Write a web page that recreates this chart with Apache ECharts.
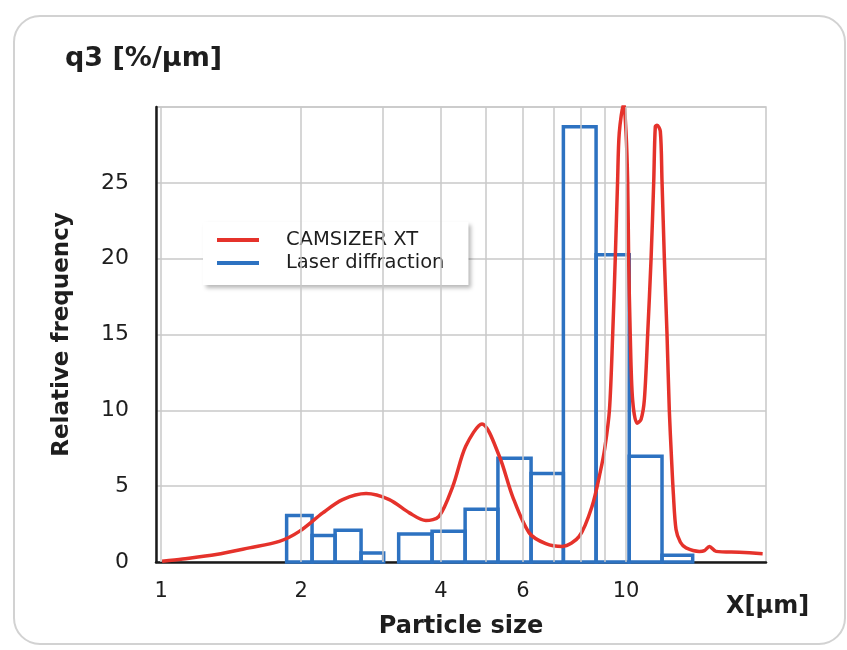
<!DOCTYPE html>
<html>
<head>
<meta charset="utf-8">
<script src="https://cdn.jsdelivr.net/npm/echarts@6/dist/echarts.min.js"></script>
<style>
  html, body { margin: 0; padding: 0; background: #ffffff; }
  #chart { width: 847px; height: 650px; }
</style>
</head>
<body>
<div id="chart"></div>
<script>
// ---- data ----
const seriesNames = ['CAMSIZER XT', 'Laser diffraction'];

// CAMSIZER XT curve (particle size in µm, q3 in %/µm)
const camX = [1.005, 1.113, 1.313, 1.548, 1.796, 1.983, 2.227, 2.457, 2.76, 3.096, 3.42, 3.71, 3.96, 4.24, 4.52, 4.90,
  5.34, 5.70, 6.19, 6.72, 7.30, 7.93, 8.45, 8.81, 9.0, 9.21, 9.36, 9.48, 9.59, 9.67, 9.88, 10.0, 10.08, 10.13, 10.21,
  10.33, 10.56, 10.77, 10.95, 11.13, 11.32, 11.47, 11.56, 11.66, 11.85, 11.95, 12.09, 12.25, 12.39, 12.53, 12.64,
  12.81, 13.09, 13.46, 14.38, 14.74, 15.11, 15.62, 17.53, 19.67];
const camY = [0.05, 0.2, 0.49, 0.93, 1.36, 2.02, 3.24, 4.11, 4.51, 4.11, 3.24, 2.73, 3.01, 4.99, 7.63, 9.1,
  6.97, 4.33, 1.92, 1.21, 1.03, 1.69, 3.67, 6.0, 7.5, 10.0, 15.0, 20.0, 25.1, 28.3, 30.2, 28.3, 25.1, 20.0, 15.0,
  10.7, 9.15, 9.4, 10.7, 15.0, 20.0, 25.1, 28.7, 28.8, 28.4, 25.1, 20.0, 15.0, 10.0, 6.75, 4.5,
  2.14, 1.3, 0.93, 0.7, 0.75, 1.03, 0.7, 0.64, 0.55];

// Laser diffraction histogram bins
const binStart  = [1.862, 2.112, 2.367, 2.692, 3.243, 3.826, 4.507, 5.302, 6.248, 7.332, 8.621, 10.16, 11.95];
const binEnd    = [2.112, 2.367, 2.692, 3.011, 3.826, 4.507, 5.302, 6.248, 7.332, 8.621, 10.16, 11.95, 13.91];
const binHeight = [3.06, 1.74, 2.09, 0.6, 1.85, 2.02, 3.47, 6.84, 5.83, 28.7, 20.26, 6.97, 0.44];

// axis ticks
const xTickLabels = [1, 2, 4, 6, 10];
const xGridValues = [1, 2, 3, 4, 5, 6, 7, 8, 9, 10];
const xRange = [0.975, 20];
const yRange = [0, 30];
const yStep = 5;

// ---- chart ----
const RED = '#e5322b';
const BLUE = '#2d72c1';
const GRID = '#c8c8c8';
const TXT = '#1e1e1e';
const FONT = "'DejaVu Sans', Verdana, sans-serif";

const chart = echarts.init(document.getElementById('chart'), null, { renderer: 'canvas' });

const camData = camX.map((x, i) => [x, camY[i]]);
const binData = binStart.map((s, i) => [s, binEnd[i], binHeight[i]]);

const option = {
  backgroundColor: '#ffffff',
  animation: false,
  color: [RED, BLUE],
  title: {
    text: 'q3 [%/μm]',
    left: 60,
    top: 40,
    textStyle: { fontFamily: FONT, fontWeight: 'bold', fontSize: 27, color: TXT }
  },
  graphic: [
    {
      type: 'rect',
      silent: true,
      z: -10,
      shape: { x: 14, y: 16, width: 831, height: 628, r: 26 },
      style: { fill: 'none', stroke: '#d2d2d2', lineWidth: 2 }
    },
    {
      type: 'text',
      left: 726,
      top: 595,
      style: { text: 'X[μm]', font: "bold 24px 'DejaVu Sans'", fill: TXT }
    }
  ],
  legend: {
    orient: 'vertical',
    left: 203,
    top: 222,
    padding: [8, 24, 12, 14],
    itemGap: 3,
    itemWidth: 42,
    itemHeight: 4,
    backgroundColor: '#ffffff',
    shadowColor: 'rgba(0,0,0,0.28)',
    shadowBlur: 4,
    shadowOffsetX: 3,
    shadowOffsetY: 3,
    data: [
      { name: seriesNames[0], icon: 'rect', itemStyle: { color: RED } },
      { name: seriesNames[1], icon: 'rect', itemStyle: { color: BLUE } }
    ],
    textStyle: { fontFamily: FONT, fontSize: 19.5, color: TXT, lineHeight: 20, padding: [0, 0, 0, 22] }
  },
  grid: {
    left: 156, right: 81, top: 107, bottom: 88,
    show: true, borderColor: GRID, borderWidth: 1.5,
    containLabel: false
  },
  xAxis: {
    type: 'log',
    logBase: 10,
    min: xRange[0],
    max: xRange[1],
    name: 'Particle size',
    nameLocation: 'middle',
    nameGap: 53,
    nameTextStyle: { fontFamily: FONT, fontWeight: 'bold', fontSize: 24, color: TXT },
    axisLine: { show: true, lineStyle: { color: '#1a1a1a', width: 2.5 } },
    axisTick: { show: false },
    splitLine: { show: false },
    axisLabel: {
      customValues: xTickLabels,
      fontFamily: FONT, fontSize: 21, color: TXT, margin: 19
    }
  },
  yAxis: {
    type: 'value',
    min: yRange[0],
    max: yRange[1],
    interval: yStep,
    name: 'Relative frequency',
    nameLocation: 'middle',
    nameGap: 82,
    nameRotate: 90,
    nameTextStyle: { fontFamily: FONT, fontWeight: 'bold', fontSize: 23, color: TXT },
    axisLine: { show: true, lineStyle: { color: '#1a1a1a', width: 2.5 } },
    axisTick: { show: false },
    splitLine: { show: true, lineStyle: { color: GRID, width: 1.5 } },
    axisLabel: { showMaxLabel: false, fontFamily: FONT, fontSize: 22, color: TXT, margin: 27 }
  },
  series: [
    {
      name: 'gridlines',
      type: 'line',
      data: [],
      z: 1,
      silent: true,
      markLine: {
        silent: true,
        symbol: ['none', 'none'],
        label: { show: false },
        lineStyle: { color: GRID, width: 1.5, type: 'solid' },
        emphasis: { disabled: true },
        data: xGridValues.map(v => ({ xAxis: v }))
      }
    },
    {
      name: seriesNames[1],
      type: 'custom',
      z: 3,
      itemStyle: { color: BLUE },
      encode: { x: [0, 1], y: 2 },
      data: binData,
      renderItem: function (params, api) {
        const x0 = api.value(0), x1 = api.value(1), h = api.value(2);
        const bl = api.coord([x0, 0]);
        const tr = api.coord([x1, h]);
        return {
          type: 'rect',
          shape: { x: bl[0], y: tr[1], width: tr[0] - bl[0], height: bl[1] - tr[1] },
          style: { fill: 'none', stroke: BLUE, lineWidth: 3.5 }
        };
      }
    },
    {
      name: seriesNames[0],
      type: 'line',
      z: 4,
      smooth: 0.3,
      symbol: 'none',
      lineStyle: { color: RED, width: 3.5 },
      itemStyle: { color: RED },
      data: camData
    }
  ]
};

chart.setOption(option);
</script>
</body>
</html>
